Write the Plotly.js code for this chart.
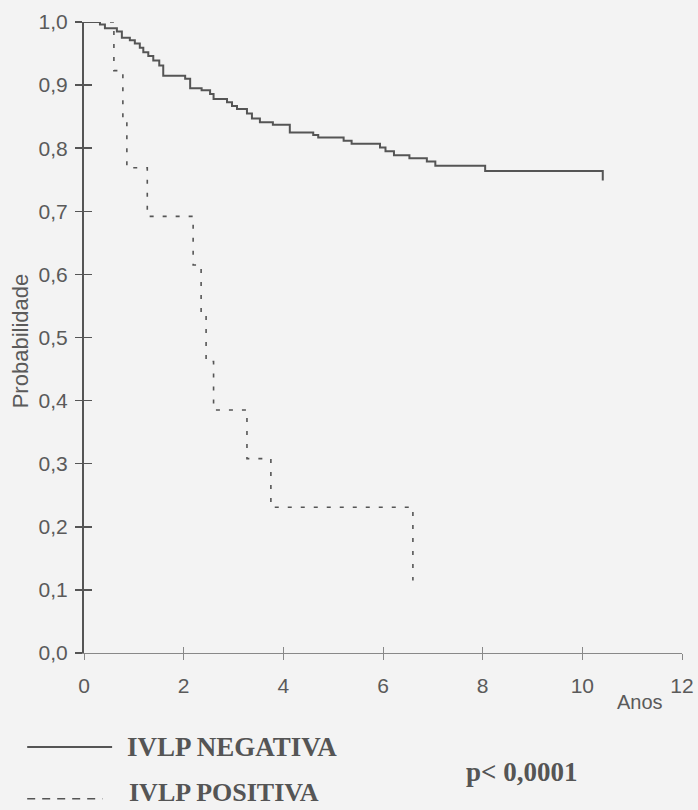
<!DOCTYPE html>
<html>
<head>
<meta charset="utf-8">
<script src="https://cdn.plot.ly/plotly-3.0.1.min.js"></script>
<style>html,body{margin:0;padding:0;background:#f3f3f3;}#chart{width:698px;height:810px;}</style>
</head>
<body>
<div id="chart"></div>
<script>
// IVLP NEGATIVA (solid) – Kaplan-Meier step curve
const negTimes = [0, 0.32, 0.42, 0.66, 0.76, 0.92, 1.02, 1.12, 1.19, 1.29, 1.39, 1.51, 1.59, 2.03, 2.13, 2.36, 2.53, 2.60, 2.87, 2.97, 3.07, 3.27, 3.37, 3.53, 3.79, 4.13, 4.60, 4.70, 5.21, 5.37, 5.94, 6.05, 6.22, 6.53, 6.88, 7.05, 8.05, 10.41];
const negSurv  = [1.0, 0.996, 0.990, 0.985, 0.975, 0.971, 0.966, 0.959, 0.952, 0.946, 0.939, 0.931, 0.915, 0.910, 0.895, 0.892, 0.886, 0.878, 0.873, 0.867, 0.862, 0.855, 0.847, 0.841, 0.837, 0.825, 0.821, 0.817, 0.812, 0.807, 0.801, 0.795, 0.789, 0.784, 0.779, 0.772, 0.764, 0.749];
// IVLP POSITIVA (dashed)
const posTimes = [0, 0.60, 0.78, 0.86, 1.27, 2.19, 2.35, 2.45, 2.60, 3.27, 3.75, 6.60];
const posSurv  = [1.0, 0.923, 0.846, 0.769, 0.692, 0.615, 0.538, 0.462, 0.385, 0.308, 0.231, 0.115];

const xTickVals = [0, 2, 4, 6, 8, 10, 12];
const yTickVals = [0, 0.1, 0.2, 0.3, 0.4, 0.5, 0.6, 0.7, 0.8, 0.9, 1.0];
const labelNeg = 'IVLP NEGATIVA';
const labelPos = 'IVLP POSITIVA';
const pText = 'p< 0,0001';
const xLabel = 'Anos';
const yLabel = 'Probabilidade';

const ink = '#555555';
const txt = '#5a5a5a';
const serif = "'Liberation Serif', 'Times New Roman', serif";

const traces = [
  {x: negTimes, y: negSurv, mode: 'lines', line: {shape: 'hv', color: ink, width: 2}, cliponaxis: false, showlegend: false, hoverinfo: 'skip'},
  {x: posTimes, y: posSurv, mode: 'lines', line: {shape: 'hv', color: ink, width: 1.6, dash: '4px,9px'}, cliponaxis: false, showlegend: false, hoverinfo: 'skip'},
  {x: [], y: [], xaxis: 'x2', yaxis: 'y2', showlegend: false, hoverinfo: 'skip'}
];

const layout = {
  width: 698, height: 810,
  margin: {l: 84, r: 16, t: 22, b: 157},
  paper_bgcolor: '#f3f3f3', plot_bgcolor: '#f3f3f3',
  separators: ', ',
  font: {family: "'Liberation Sans', Arial, sans-serif", color: txt},
  showlegend: false,
  xaxis: {
    range: [0, 12], tickvals: xTickVals, ticktext: xTickVals.map(String),
    ticks: 'outside', ticklen: 6, tickwidth: 1, tickcolor: '#888',
    showline: true, linecolor: '#888', linewidth: 1,
    showgrid: false, zeroline: false,
    tickfont: {size: 21, color: txt}, ticklabelstandoff: 8
  },
  yaxis: {
    range: [0, 1], tickvals: yTickVals, tickformat: '.1f',
    ticks: 'outside', ticklen: 7, tickwidth: 1.5, tickcolor: ink,
    showline: true, linecolor: ink, linewidth: 2,
    showgrid: false, zeroline: false,
    tickfont: {size: 21, color: txt}, ticklabelstandoff: 3
  },
  xaxis2: {
    overlaying: 'x', anchor: 'y', side: 'bottom', range: [0, 12], tickvals: xTickVals,
    ticks: 'inside', ticklen: 6, tickwidth: 1, tickcolor: '#888',
    showticklabels: false, showline: false, showgrid: false, zeroline: false
  },
  yaxis2: {
    overlaying: 'y', anchor: 'x', side: 'left', range: [0, 1], tickvals: yTickVals,
    ticks: 'inside', ticklen: 8, tickwidth: 1.5, tickcolor: ink,
    showticklabels: false, showline: false, showgrid: false, zeroline: false
  },
  shapes: [
    {type: 'line', xref: 'paper', yref: 'paper', x0: -0.095, x1: 0.047, y0: -0.149, y1: -0.149, line: {color: ink, width: 2}},
    {type: 'line', xref: 'paper', yref: 'paper', x0: -0.095, x1: 0.031, y0: -0.231, y1: -0.231, line: {color: ink, width: 1.6, dash: '8px,7px'}}
  ],
  annotations: [
    {xref: 'paper', yref: 'paper', x: -0.107, y: 0.494, xanchor: 'center', yanchor: 'middle', textangle: -90, showarrow: false, text: yLabel, font: {size: 22, color: txt}},
    {xref: 'paper', yref: 'paper', x: 0.929, y: -0.078, xanchor: 'center', yanchor: 'middle', showarrow: false, text: xLabel, font: {size: 20, color: txt}},
    {xref: 'paper', yref: 'paper', x: 0.068, y: -0.149, xanchor: 'left', yanchor: 'middle', showarrow: false, text: '<b>' + labelNeg + '</b>', font: {family: serif, size: 27, color: ink}},
    {xref: 'paper', yref: 'paper', x: 0.072, y: -0.2465, xanchor: 'left', yanchor: 'bottom', showarrow: false, text: '<b>' + labelPos + '</b>', font: {family: serif, size: 26, color: ink}},
    {xref: 'paper', yref: 'paper', x: 0.636, y: -0.188, xanchor: 'left', yanchor: 'middle', showarrow: false, text: '<b>' + pText + '</b>', font: {family: serif, size: 27, color: ink}}
  ]
};

Plotly.newPlot('chart', traces, layout, {staticPlot: true, displayModeBar: false});
</script>
</body>
</html>
